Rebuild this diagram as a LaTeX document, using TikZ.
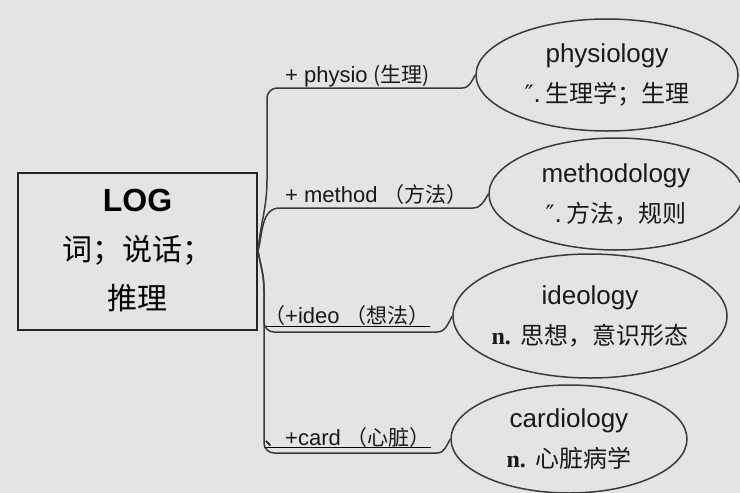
\documentclass[tikz,border=0pt]{standalone}
\usepackage{fontspec}
\setmainfont{Liberation Sans}
\newfontfamily\cjk{Noto Sans CJK SC}
\newfontfamily\tnr{Liberation Serif}
\newfontfamily\dvs{DejaVu Sans}
\usetikzlibrary{shapes.geometric}
\definecolor{bg}{HTML}{E4E4E4}
\definecolor{ink}{HTML}{3A3A3A}
\newcommand{\zh}[1]{{\cjk\fontsize{24}{40}\selectfont #1}}
\newcommand{\lz}[1]{{\cjk\fontsize{21}{26}\selectfont #1}}
\begin{document}
\begin{tikzpicture}[x=1pt,y=-1pt,
    branch/.style={draw=ink,line width=1.5pt},
    leaf/.style={ellipse,draw=ink,line width=1.5pt,inner sep=0pt},
    word/.style={align=center,inner sep=0pt,text=black!90,font=\fontsize{26}{40}\selectfont},
    lbl/.style={anchor=base west,inner sep=0pt,text=black!90,font=\fontsize{22}{26}\selectfont},
    uline/.style={draw=black,line width=1pt}]
    \fill[bg] (0,0) rectangle (740,493);
    \useasboundingbox (0,0) rectangle (740,493);
    % root box
    \node[draw=black!85,line width=2pt,minimum width=239pt,minimum height=157pt,
        align=center,font=\fontsize{30}{49}\selectfont] (root) at (137.5,251)
        {{\bfseries\fontsize{32}{49}\selectfont LOG}\\{\cjk 词；说话；}\\{\cjk 推理}};
    % leaves
    \node[leaf,minimum width=262pt,minimum height=112pt] (physio) at (607,75) {};
    \node[leaf,minimum width=254pt,minimum height=112pt] (method) at (616,194) {};
    \node[leaf,minimum width=274pt,minimum height=124pt] (ideo) at (590,316) {};
    \node[leaf,minimum width=236pt,minimum height=108pt] (card) at (569,439) {};
    \node[word] (physiotxt) at (physio) {physiology\\{\dvs\fontsize{24}{40}\selectfont ″}.\,\zh{生理学；生理}};
    \node[word] (methodtxt) at (method) {methodology\\{\dvs\fontsize{24}{40}\selectfont ″}.\,\zh{方法，规则}};
    \node[word] (ideotxt) at (ideo) {ideology\\{\tnr\bfseries\fontsize{24}{40}\selectfont n.} \zh{思想，意识形态}};
    \node[word] (cardtxt) at (card) {cardiology\\{\tnr\bfseries\fontsize{24}{40}\selectfont n.} \zh{心脏病学}};
    % branch labels
    \node[lbl] (physiolbl) at (285,82) {+ physio \lz{(生理)}};
    \node[lbl] (methodlbl) at (285,202) {+ method \lz{（方法）}};
    \node[lbl] (ideolbl) at (264,323) {\lz{（}+ideo \lz{（想法）}};
    \node[lbl] (cardlbl) at (264,445) {\lz{、}+card \lz{（心脏）}};
    \draw[uline] ([yshift=-3pt]ideolbl.base west) -- ([yshift=-3pt]ideolbl.base east);
    \draw[uline] ([yshift=-2pt]cardlbl.base west) -- ([yshift=-2pt]cardlbl.base east);
    % branches
    \draw[branch] (root.east) to[out=85,in=-90] (267,180) -- (267,98)
        to[out=90,in=180] (277,88) -- (462,88) to[out=0,in=-120] (physio.west);
    \draw[branch] (root.east) to[out=75,in=180] (280,208) -- (473,208)
        to[out=0,in=-120] (method.west);
    \draw[branch] (root.east) to[out=-80,in=90] (264,290) -- (264,322)
        to[out=-90,in=180] (274,332) -- (437,332) to[out=0,in=-120] (ideo.west);
    \draw[branch] (root.east) to[out=-80,in=90] (264,290) -- (264,443)
        to[out=-90,in=180] (274,453) -- (437,453) to[out=0,in=-120] (card.west);
\end{tikzpicture}
\end{document}
